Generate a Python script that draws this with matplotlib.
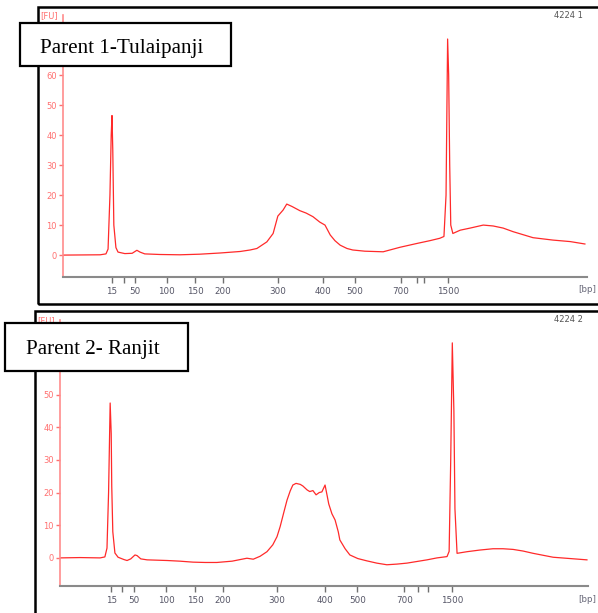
import matplotlib
matplotlib.use('Agg')
import matplotlib.pyplot as plt
from matplotlib.patches import Rectangle

# electropherogram traces: position along run (% of axis) and fluorescence [FU]
p1_pos = [0, 7.1, 8.2, 8.6, 8.96, 9.2, 9.35, 9.5, 9.7, 10.1, 10.5, 11.8, 13.2, 14.1, 14.7, 15.6,
          18.5, 22.3, 26.1, 30.0, 33.8, 35.7, 37.0, 38.9, 40.1, 41.0, 42.0, 42.7, 43.7, 45.2,
          46.4, 47.7, 49.0, 50.0, 51.0, 51.9, 52.9, 54.2, 55.3, 57.6, 61.1, 64.3, 67.6, 70.0,
          71.9, 72.7, 73.1, 73.3, 73.4, 73.6, 73.8, 74.0, 74.4, 75.8, 77.7, 80.2, 82.1, 84.0,
          85.9, 87.8, 89.7, 93.5, 96.8, 99.6]
p1_fu = [0, 0.1, 0.4, 2, 20, 40, 46.5, 35, 10, 2.5, 1, 0.5, 0.6, 1.6, 1, 0.4,
         0.2, 0.1, 0.3, 0.7, 1.2, 1.7, 2.2, 4.4, 7.2, 13, 15, 17, 16.2, 14.8,
         14, 12.8, 11, 10, 6.7, 4.8, 3.3, 2.2, 1.7, 1.3, 1.1, 2.6, 3.9, 4.8,
         5.6, 6.2, 20, 55, 72, 60, 30, 10, 7.2, 8.3, 9, 10, 9.7, 9,
         7.8, 6.8, 5.8, 5, 4.5, 3.7]

p2_pos = [0, 3.8, 7.6, 8.5, 8.9, 9.2, 9.5, 9.7, 9.8, 10.0, 10.4, 11.0, 12.1, 12.7, 13.4, 14.2,
          14.6, 15.3, 16.5, 18.4, 20.3, 22.7, 25.2, 27.5, 29.7, 32.6, 35.4, 36.6, 37.9, 39.2,
          40.3, 41.1, 41.7, 42.4, 43.0, 43.6, 44.1, 44.7, 45.5, 46.0, 46.8, 47.3, 47.9, 48.5,
          49.1, 49.6, 50.2, 50.6, 50.9, 51.5, 52.1, 52.7, 53.0, 54.0, 54.9, 56.4, 58.1, 60.0,
          61.9, 63.8, 65.7, 67.6, 69.5, 71.4, 73.3, 73.7, 74.0, 74.3, 74.6, 74.8, 75.2, 77.1,
          79.5, 82.0, 83.9, 85.8, 87.7, 89.6, 91.5, 93.4, 96.6, 99.8]
p2_fu = [0, 0.1, 0, 0.3, 3, 20, 47.4, 38, 22, 8, 1.5, 0.2, -0.5, -0.8, -0.3, 0.9,
         0.7, -0.3, -0.6, -0.7, -0.8, -1.0, -1.3, -1.4, -1.4, -1.0, -0.1, -0.4, 0.5, 1.9,
         4, 6.5, 9.6, 14, 17.7, 20.5, 22.3, 22.8, 22.5, 22, 20.8, 20.3, 20.6, 19.3,
         20, 20.2, 22.3, 19, 16.5, 13.5, 11.6, 8, 5.5, 2.8, 0.9, -0.2, -0.9, -1.6,
         -2.1, -1.9, -1.6, -1.1, -0.6, 0, 0.4, 2, 30, 65.8, 45, 15, 1.4, 1.9,
         2.4, 2.8, 2.8, 2.6, 2.1, 1.4, 0.8, 0.2, -0.2, -0.6]

bp_labels = ['15', '', '50', '100', '150', '200', '300', '400', '500', '700', '', '', '1500']
p1_ticks = [9.35, 11.6, 13.7, 19.8, 25.2, 30.5, 41.0, 49.6, 55.7, 64.5, 67.6, 68.9, 73.5]
p2_ticks = [9.7, 11.7, 14.0, 20.1, 25.6, 30.9, 41.1, 50.2, 56.3, 65.2, 67.8, 69.7, 74.2]
# the higher FU ticks sit under the caption boxes, so only the visible ones are kept
p1_fu_ticks = [0, 10, 20, 30, 40, 50, 60]
p2_fu_ticks = [0, 10, 20, 30, 40, 50]

W, H = 598, 613
fig = plt.figure(figsize=(W / 100, H / 100), dpi=100)


def fx(px):
    return px / W


def fy(py):
    return 1 - py / H


def panel(left, right, top, bottom, x, y, ticks, yticks, ylim, sample, title, box, text_xy):
    ax = fig.add_axes([fx(left), fy(bottom), fx(right - left), (bottom - top) / H])
    ax.plot(x, y, color='#ff2a2a', lw=0.9)
    ax.set_xlim(0, 100)
    ax.set_ylim(*ylim)
    ax.set_xticks(ticks)
    ax.set_xticklabels(bp_labels)
    ax.set_yticks(yticks)
    for s in ['top', 'right']:
        ax.spines[s].set_visible(False)
    ax.spines['left'].set_color('#ff8c8c')
    ax.spines['left'].set_linewidth(1.2)
    ax.spines['bottom'].set_color('#8a8a8a')
    ax.spines['bottom'].set_linewidth(1.5)
    ax.tick_params(axis='y', colors='#ff7070', labelsize=6, length=3, width=1, pad=1.5)
    ax.tick_params(axis='x', colors='#707070', labelcolor='#555566', labelsize=6.3,
                   length=4, width=1, pad=3)
    ax.set_facecolor('none')
    # labels around the plot
    fig.text(fx(left - 23), fy(top + 1), '[FU]', color='#ff7070', fontsize=6, va='center')
    fig.text(fx(583), fy(top), sample, color='#555555', fontsize=6, ha='right', va='center')
    fig.text(fx(596), fy(bottom + 13), '[bp]', color='#666677', fontsize=6.3,
             ha='right', va='center')
    # caption box
    bx0, by0, bx1, by1 = box
    fig.add_artist(Rectangle((fx(bx0), fy(by1)), fx(bx1 - bx0), (by1 - by0) / H,
                             transform=fig.transFigure, facecolor='white',
                             edgecolor='black', lw=1.6, zorder=5))
    fig.text(fx(text_xy[0]), fy(text_xy[1]), title, family='Liberation Serif',
             fontsize=15.2, va='baseline', zorder=6)
    return ax


# outer frames
fig.add_artist(Rectangle((fx(38), fy(304)), fx(600 - 38), (304 - 7) / H,
                         transform=fig.transFigure, facecolor='none',
                         edgecolor='black', lw=1.8))
fig.add_artist(Rectangle((fx(35), fy(640)), fx(600 - 35), (640 - 311) / H,
                         transform=fig.transFigure, facecolor='none',
                         edgecolor='black', lw=1.8))

panel(63, 587, 15, 277, p1_pos, p1_fu, p1_ticks, p1_fu_ticks, (-7.3, 80), '4224 1',
      'Parent 1-Tulaipanji', (20, 23, 231, 66), (40, 53))
panel(60, 588, 320, 586, p2_pos, p2_fu, p2_ticks, p2_fu_ticks, (-8.6, 72.8), '4224 2',
      'Parent 2- Ranjit', (5, 323, 188, 371), (26, 354))

fig.savefig('out.png', dpi=100)
